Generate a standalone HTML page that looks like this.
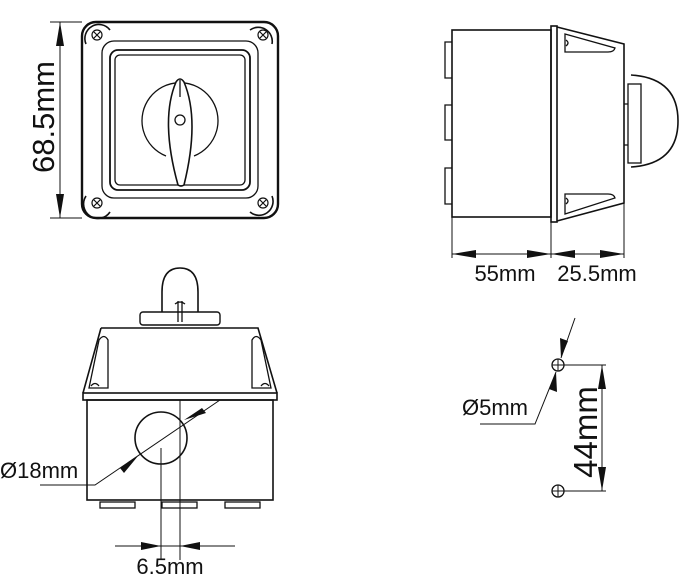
<!DOCTYPE html>
<html><head><style>body{margin:0;background:#fff}svg{display:block}text{font-family:"Liberation Sans",sans-serif;fill:#111}</style></head>
<body>
<svg width="700" height="575" viewBox="0 0 700 575" xmlns="http://www.w3.org/2000/svg" fill="none" stroke="#111" stroke-width="1.3">
<!-- top-left front view -->
<rect x="82" y="22" width="196" height="196" rx="14" stroke-width="2.4"/>
<rect x="102" y="41" width="156" height="157" rx="12"/>
<rect x="110" y="50" width="140" height="140" rx="8" stroke-width="1.8"/>
<rect x="115" y="55" width="130" height="130" rx="5"/>
<g stroke-width="1.6">
<path d="M86,44 A14,14 0 0 1 110,30"/><path d="M272,44 A14,14 0 0 0 250,30"/>
<path d="M86,196 A14,14 0 0 0 110,212"/><path d="M272,196 A14,14 0 0 1 250,212"/>
</g>
<g stroke-width="1.2">
<circle cx="97" cy="35" r="5"/><circle cx="263" cy="35" r="5"/><circle cx="97" cy="203" r="5"/><circle cx="263" cy="203" r="5"/>
<path d="M94,32l6,6M100,32l-6,6M260,32l6,6M266,32l-6,6M94,200l6,6M100,200l-6,6M260,200l6,6M266,200l-6,6"/>
</g>
<path d="M166,156 A38,38 0 1 1 194,156"/>
<path d="M176,82 Q160,120 178,185 Q181,187 184,185 Q200,120 184,82 Q180,76 176,82Z" fill="#fff" stroke-width="1.6"/>
<path d="M180,80 V97"/>
<circle cx="180" cy="120" r="5"/>
<path d="M50,22 H82 M50,218 H82" stroke-width="1"/>
<path d="M60,22 V218" stroke-width="1"/>
<path d="M60,22 L56,46 L64,46Z M60,218 L56,194 L64,194Z" fill="#111" stroke="none"/>
<text transform="translate(54,117) rotate(-90)" text-anchor="middle" font-size="31" stroke="none">68.5mm</text>
<!-- side view -->
<rect x="452" y="30" width="99" height="187" stroke-width="1.6"/>
<path d="M452,42 H445 V78 H452 M452,105 H445 V140 H452 M452,168 H445 V204 H452"/>
<rect x="551" y="26" width="6" height="196" stroke-width="1.6"/>
<path d="M557,27 L624,44 V203 L557,221" stroke-width="1.6"/>
<path d="M565,34 L615,48 Q614,52 608,52 H565Z M565,214 L615,198 Q614,194 608,194 H565Z"/>
<path d="M566,40 q4,3 0,6 M566,198 q4,3 0,6"/>
<rect x="628" y="84" width="13" height="79"/>
<path d="M631,75 Q678,78 678,121 Q678,164 631,167" stroke-width="1.6"/>
<path d="M624,104 H628 M624,145 H628"/>
<path d="M452,217 V258 M551,222 V258 M624,203 V258" stroke-width="1"/>
<path d="M452,254 H624" stroke-width="1"/>
<path d="M452,254 L476,250 V258Z M551,254 L527,250 V258Z M551,254 L575,250 V258Z M624,254 L600,250 V258Z" fill="#111" stroke="none"/>
<text x="505" y="281" text-anchor="middle" font-size="22" stroke="none">55mm</text>
<text x="597" y="281" text-anchor="middle" font-size="22" stroke="none">25.5mm</text>
<!-- bottom view -->
<path d="M162,312 V292 Q162,268 180,268 Q198,268 198,292 V312" stroke-width="1.6"/>
<path d="M178,301 V322 M182,301 V322 M175,304 Q180,300 185,304"/>
<rect x="140" y="312" width="80" height="13" rx="3" stroke-width="1.4"/>
<path d="M101,328 H258 L277,393 M101,328 L83,393" stroke-width="1.6"/>
<path d="M89,388 L99,340 Q104,333 108,340 V388 Z M271,388 L261,340 Q256,333 252,340 V388 Z"/>
<path d="M91,386 q4,-5 8,0 M261,386 q4,-5 8,0"/>
<rect x="83" y="393" width="194" height="7" stroke-width="1.6"/>
<rect x="87" y="400" width="186" height="100" stroke-width="1.6"/>
<rect x="100" y="502" width="35" height="6"/><rect x="162" y="502" width="35" height="6"/><rect x="225" y="502" width="35" height="6"/>
<circle cx="161" cy="438" r="26" stroke-width="1.6"/>
<path d="M161,448 V560 M180,400 V560 M115,546 H235" stroke-width="1"/>
<path d="M161,546 L141,542 V550Z M180,546 L200,542 V550Z" fill="#111" stroke="none"/>
<path d="M40,485 H95 L220,400" stroke-width="1"/>
<path d="M138,456 L120,468 L124,473Z M184,420 L202,408 L206,413Z" fill="#111" stroke="none"/>
<text x="0" y="478" font-size="22" stroke="none">Ø18mm</text>
<text x="170" y="574" text-anchor="middle" font-size="22" stroke="none">6.5mm</text>
<!-- holes -->
<circle cx="558" cy="365" r="6"/><circle cx="558" cy="491" r="6"/>
<path d="M552,365 H564 M558,359 V371 M552,491 H564 M558,485 V497" stroke-width="1"/>
<path d="M564,365 H606 M564,491 H606 M602,365 V491" stroke-width="1"/>
<path d="M602,365 L598,389 H606Z M602,491 L598,467 H606Z" fill="#111" stroke="none"/>
<path d="M575,318 L561,358 M556,372 L535,424 H480" stroke-width="1"/>
<path d="M561,358 L560,338 L568,341Z M556,372 L557,392 L549,389Z" fill="#111" stroke="none"/>
<text x="462" y="415" font-size="22" stroke="none">Ø5mm</text>
<text transform="translate(597,432) rotate(-90)" text-anchor="middle" font-size="33" stroke="none">44mm</text>
</svg>
</body></html>
